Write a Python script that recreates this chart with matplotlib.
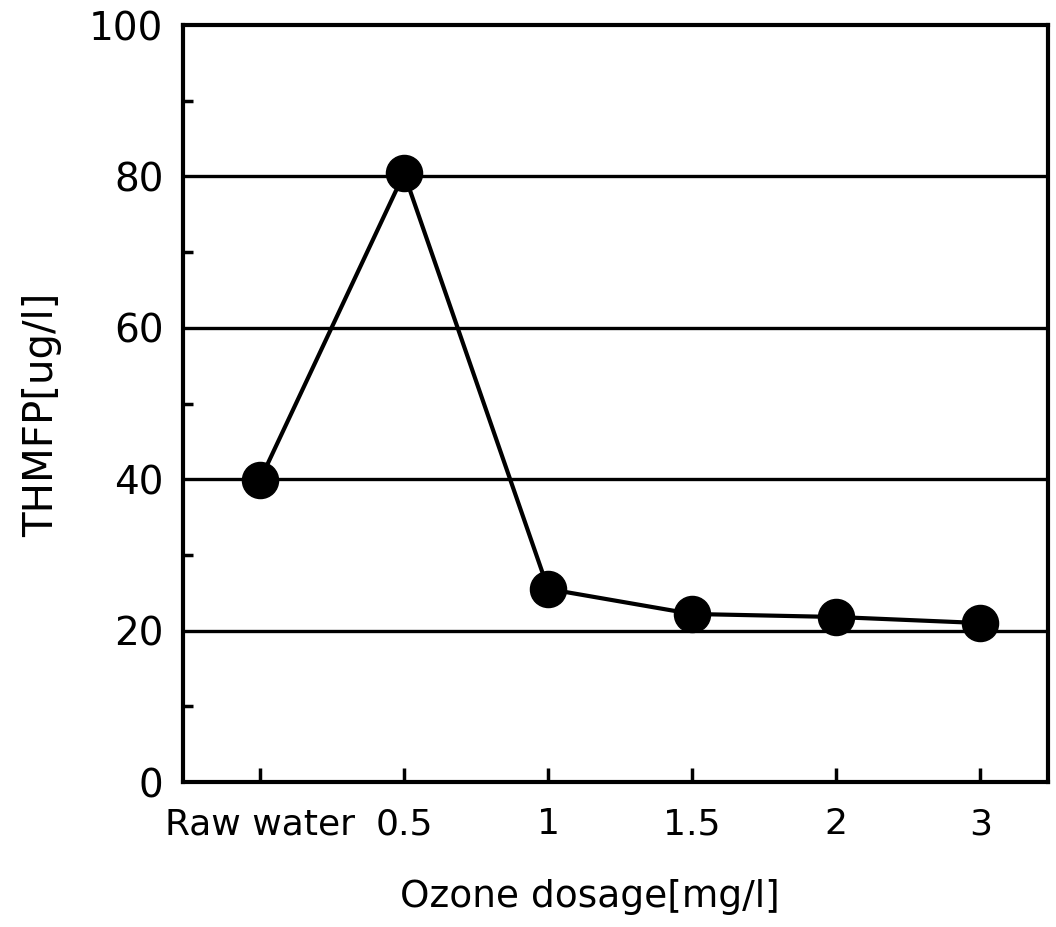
import matplotlib
matplotlib.use("Agg")
import matplotlib.pyplot as plt
from matplotlib.ticker import MultipleLocator

categories = ["Raw water", "0.5", "1", "1.5", "2", "3"]
thmfp = [39.9, 80.4, 25.5, 22.2, 21.8, 21.0]
y_ticks = [0, 20, 40, 60, 80, 100]

fig = plt.figure(figsize=(10.56, 9.27), dpi=100)
ax = fig.add_axes([0.1733, 0.1564, 0.8191, 0.8166])

x = list(range(len(categories)))
ax.plot(x, thmfp, color="black", lw=3, marker="o", markersize=26, zorder=3)

ax.set_xlim(-0.535, 5.47)
ax.set_ylim(0, 100)
ax.set_yticks(y_ticks)
ax.yaxis.set_minor_locator(MultipleLocator(10))
ax.set_xticks(x)
ax.set_xticklabels(categories)
for v in [20, 40, 60, 80]:
    ax.axhline(v, color="black", lw=2.4, zorder=1)

for s in ax.spines.values():
    s.set_linewidth(3)
ax.tick_params(axis="x", which="major", direction="in", length=10, width=2.5,
               labelsize=26, pad=18)
ax.tick_params(axis="y", which="minor", direction="in", length=7, width=2.5)
ax.tick_params(axis="y", which="major", length=0, pad=14, labelsize=28)

ax.set_xlabel("Ozone dosage[mg/l]", fontsize=27)
ax.set_ylabel("THMFP[ug/l]", fontsize=29)
ax.xaxis.set_label_coords(0.47, -0.128)
ax.yaxis.set_label_coords(-0.14, 0.485)

fig.savefig("out.png", dpi=100)
